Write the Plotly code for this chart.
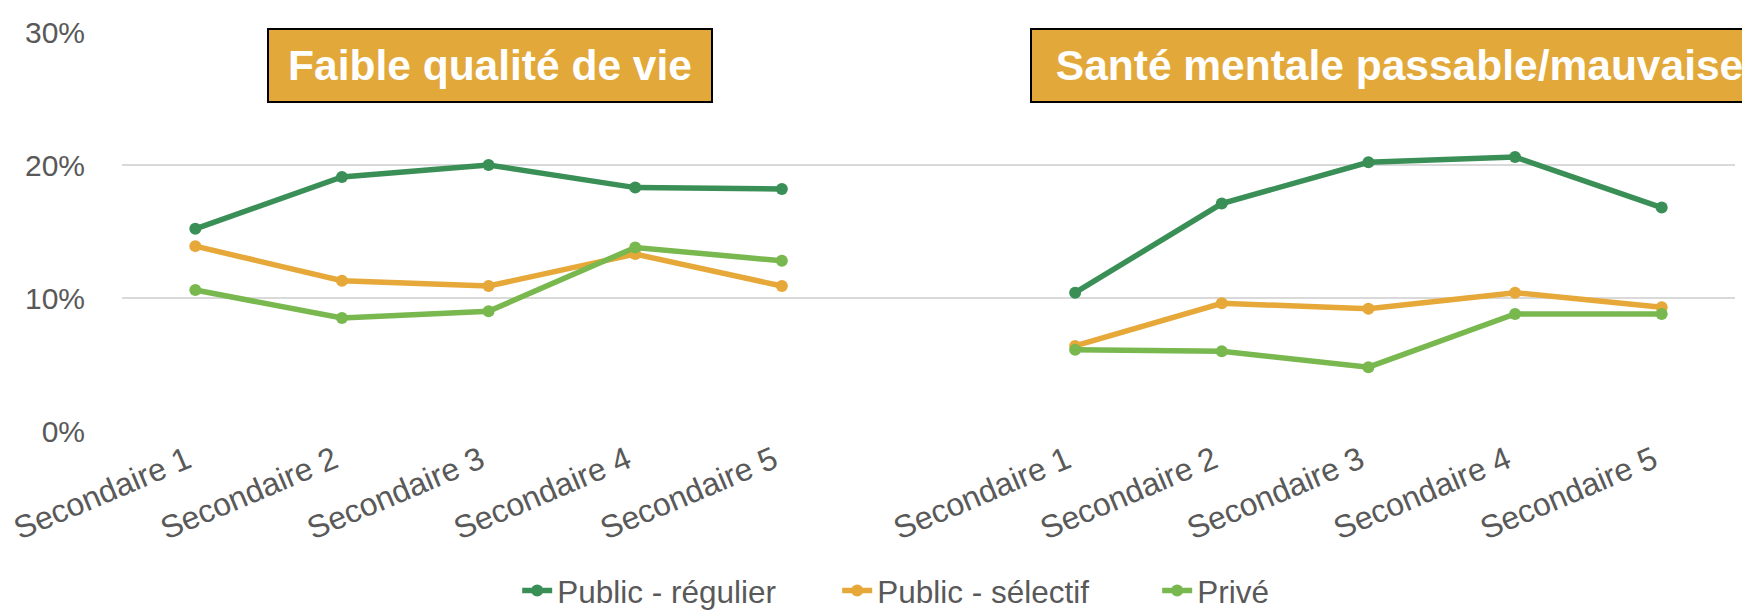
import plotly.graph_objects as go

categories = ["Secondaire 1", "Secondaire 2", "Secondaire 3", "Secondaire 4", "Secondaire 5"]
panel_titles = ["Faible qualité de vie", "Santé mentale passable/mauvaise"]
series_names = ["Public - régulier", "Public - sélectif", "Privé"]

# Faible qualité de vie
qv_regulier = [0.152, 0.191, 0.200, 0.183, 0.182]
qv_selectif = [0.139, 0.113, 0.109, 0.133, 0.109]
qv_prive = [0.106, 0.085, 0.090, 0.138, 0.128]

# Santé mentale passable/mauvaise
sm_regulier = [0.104, 0.171, 0.202, 0.206, 0.168]
sm_selectif = [0.064, 0.096, 0.092, 0.104, 0.093]
sm_prive = [0.061, 0.060, 0.048, 0.088, 0.088]

y_ticks = [0, 0.10, 0.20, 0.30]
y_ticklabels = ["0%", "10%", "20%", "30%"]

colors = ["#3A8F57", "#E6A838", "#78B84E"]

left = [qv_regulier, qv_selectif, qv_prive]
right = [sm_regulier, sm_selectif, sm_prive]

n = len(categories)
xs = list(range(n)) + [n] + list(range(n + 1, 2 * n + 1))
tickvals = list(range(n)) + list(range(n + 1, 2 * n + 1))
ticktext = [c + "\u00a0" for c in categories + categories]

FONT = "Liberation Sans, Arial, sans-serif"

fig = go.Figure()
for name, lv, rv, c in zip(series_names, left, right, colors):
    ys = list(lv) + [None] + list(rv)
    fig.add_trace(go.Scatter(
        x=xs, y=ys, name=name, mode="lines+markers",
        line=dict(color=c, width=5.5), marker=dict(color=c, size=12),
        connectgaps=False,
    ))

fig.update_layout(
    width=1750, height=614,
    margin=dict(l=114, r=23, t=24, b=191, autoexpand=False),
    plot_bgcolor="white", paper_bgcolor="white",
    font=dict(family=FONT, color="#595959", size=30),
    showlegend=True,
    legend=dict(orientation="h", x=0.245, xanchor="left", y=-0.40, yanchor="middle",
                entrywidth=275, entrywidthmode="pixels",
                font=dict(size=31.5, color="#595959"), bgcolor="rgba(0,0,0,0)"),
    xaxis=dict(range=[-0.5, 2 * n + 0.5], tickmode="array", tickvals=tickvals, ticktext=ticktext,
               tickangle=-23, showgrid=False, zeroline=False, showline=False,
               ticks="", ticklabelstandoff=0, automargin=False,
               tickfont=dict(size=32, color="#595959")),
    yaxis=dict(range=[0, 0.30], tickmode="array", tickvals=y_ticks, ticktext=y_ticklabels,
               showgrid=True, gridcolor="#D9D9D9", gridwidth=2, zeroline=False, showline=False,
               ticks="outside", ticklen=30, tickcolor="rgba(0,0,0,0)", automargin=False,
               tickfont=dict(size=30, color="#595959")),
)

boxes = [(0.0899, 442), (0.563, 735)]
for title, (bx, bw) in zip(panel_titles, boxes):
    fig.add_annotation(
        text="<b>" + title + "</b>", xref="paper", yref="paper", x=bx, y=0.916,
        xanchor="left", yanchor="middle", showarrow=False,
        font=dict(family=FONT, size=42.5, color="white"),
        bgcolor="#E3A83A", bordercolor="#000000", borderwidth=2, borderpad=0,
        width=bw, height=71, align="center",
    )

fig.write_html("out.html")
